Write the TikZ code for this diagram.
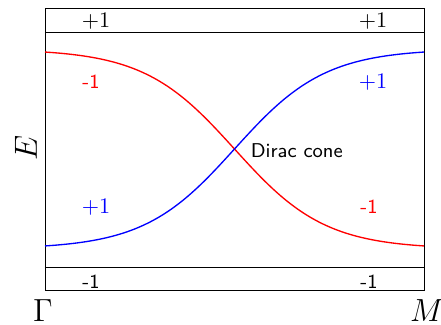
\documentclass[tikz,border=0pt]{standalone}
\usepackage{tikz}

\begin{document}
\begin{tikzpicture}[x=0.45pt, y=-0.45pt, font=\normalsize]
  \useasboundingbox (0,0) rectangle (441,325);
  % frame and the two bulk bands
  \draw (45,8) rectangle (424,290);
  \draw (45,32) -- (424,32);
  \draw (45,267) -- (424,267);
  % surface bands
  \draw[red, semithick] plot[domain=45:424, samples=120]
    (\x, {149 + 100*tanh(0.011*(\x-234.5))});
  \draw[blue, semithick] plot[domain=45:424, samples=120]
    (\x, {149 - 100*tanh(0.011*(\x-234.5))});
  % labels
  \foreach \x/\n in {96/tl, 373/tr}
    \node (top\n) at (\x,21) {$+1$};
  \foreach \x/\n in {91/bl, 369/br}
    \node[font=\small\sffamily] (bot\n) at (\x,282) {-1};
  \node[red, font=\small\sffamily] (redl) at (91,82) {-1};
  \node[blue] (bluer) at (373,82) {$+1$};
  \node[blue] (bluel) at (96,207) {$+1$};
  \node[red, font=\small\sffamily] (redr) at (369,207) {-1};
  \node[font=\small\sffamily, anchor=west] (dirac) at (243,151) {Dirac cone};
  \node[font=\Large] (gamma) at (43,311) {$\Gamma$};
  \node[font=\Large] (mpt) at (427,311) {$M$};
  \node[font=\Large, rotate=90] (energy) at (26,148) {$E$};
\end{tikzpicture}
\end{document}
